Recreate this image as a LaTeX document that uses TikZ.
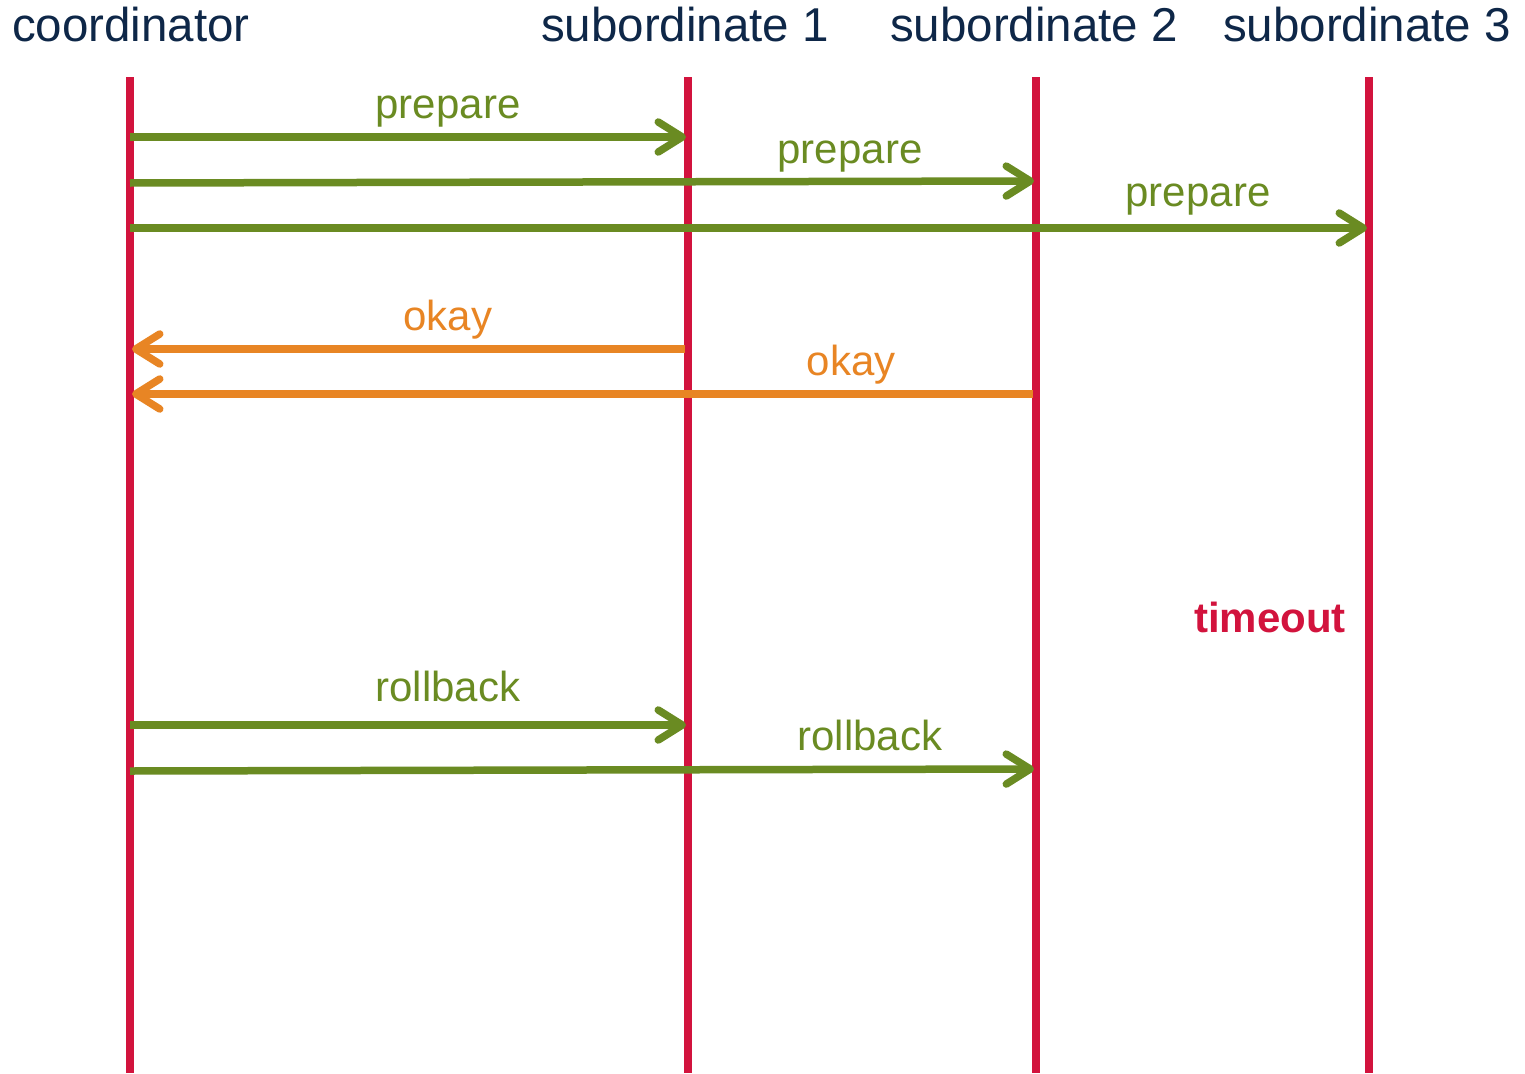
\documentclass[tikz,border=0pt]{standalone}
\usepackage{fontspec}
\setmainfont{Liberation Sans}
\usetikzlibrary{arrows.meta}
\definecolor{lifered}{HTML}{D2133D}
\definecolor{msggreen}{HTML}{6A8B22}
\definecolor{msgorange}{HTML}{E88524}
\definecolor{headnavy}{HTML}{0E2748}
\tikzset{
  lifeline/.style={draw=lifered, line width=7.5pt},
  header/.style={anchor=base, text=headnavy, inner sep=0pt, font=\fontsize{47.5}{56}\selectfont},
  msglabel/.style={anchor=base, inner sep=0pt, font=\fontsize{42}{50}\selectfont},
  msg/.style={line width=7.5pt, -{Straight Barb[length=24pt,width=30pt,line cap=round,line join=round]}},
  req/.style={msg, draw=msggreen},
  resp/.style={msg, draw=msgorange},
}
\begin{document}
\begin{tikzpicture}[x=1pt,y=-1pt]
\useasboundingbox (0,0) rectangle (1525,1073);
% headers
\node[header] (hc) at (131,42) {coordinator};
\node[header] (h1) at (685,42) {subordinate 1};
\node[header] (h2) at (1034,42) {subordinate 2};
\node[header] (h3) at (1367,42) {subordinate 3};
% lifelines
\coordinate (c0) at (130,77);  \coordinate (cE) at (130,1073);
\coordinate (s10) at (688,77); \coordinate (s1E) at (688,1073);
\coordinate (s20) at (1036,77); \coordinate (s2E) at (1036,1073);
\coordinate (s30) at (1369,77); \coordinate (s3E) at (1369,1073);
\draw[lifeline] (c0) -- (cE);
\draw[lifeline] (s10) -- (s1E);
\draw[lifeline] (s20) -- (s2E);
\draw[lifeline] (s30) -- (s3E);
% message endpoints
\coordinate (p1a) at (130,137); \coordinate (p1b) at (686,137);
\coordinate (p2a) at (130,183); \coordinate (p2b) at (1034,181);
\coordinate (p3a) at (130,228); \coordinate (p3b) at (1367,228);
\coordinate (o1a) at (685,349); \coordinate (o1b) at (132,349);
\coordinate (o2a) at (1033,394); \coordinate (o2b) at (132,394);
\coordinate (r1a) at (130,725); \coordinate (r1b) at (686,725);
\coordinate (r2a) at (130,771); \coordinate (r2b) at (1034,769);
% messages
\draw[req] (p1a) -- (p1b);
\draw[req] (p2a) -- (p2b);
\draw[req] (p3a) -- (p3b);
\draw[resp] (o1a) -- (o1b);
\draw[resp] (o2a) -- (o2b);
\draw[req] (r1a) -- (r1b);
\draw[req] (r2a) -- (r2b);
% labels
\node[msglabel, text=msggreen] (lp1) at (448,118) {prepare};
\node[msglabel, text=msggreen] (lp2) at (850,163) {prepare};
\node[msglabel, text=msggreen] (lp3) at (1198,206) {prepare};
\node[msglabel, text=msgorange] (lo1) at (448,330) {okay};
\node[msglabel, text=msgorange] (lo2) at (851,375) {okay};
\node[msglabel, text=lifered, font=\fontsize{42}{50}\selectfont\bfseries] (lt) at (1270,632) {timeout};
\node[msglabel, text=msggreen] (lr1) at (448,701) {rollback};
\node[msglabel, text=msggreen] (lr2) at (870,750) {rollback};
\end{tikzpicture}
\end{document}
